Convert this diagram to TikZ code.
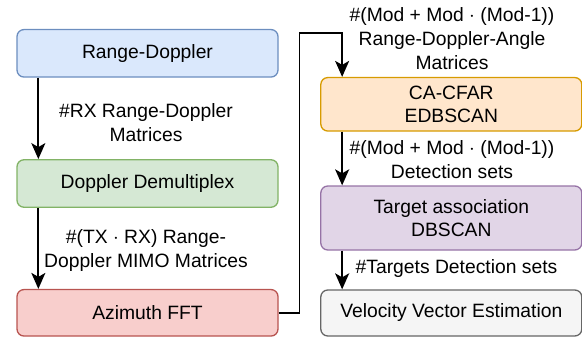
\documentclass[tikz,border=0pt]{standalone}
\usepackage{fontspec}
\setmainfont{Liberation Sans}
\usetikzlibrary{arrows.meta}
\definecolor{bluefill}{HTML}{DAE8FC}\definecolor{blueline}{HTML}{6C8EBF}
\definecolor{greenfill}{HTML}{D5E8D4}\definecolor{greenline}{HTML}{82B366}
\definecolor{redfill}{HTML}{F8CECC}\definecolor{redline}{HTML}{B85450}
\definecolor{orangefill}{HTML}{FFE6CC}\definecolor{orangeline}{HTML}{D79B00}
\definecolor{purplefill}{HTML}{E1D5E7}\definecolor{purpleline}{HTML}{9673A6}
\definecolor{grayfill}{HTML}{F5F5F5}\definecolor{grayline}{HTML}{666666}
\begin{document}
\begin{tikzpicture}[x=1pt, y=-1pt,
    box/.style={draw, rounded corners=7pt, line width=1.3pt, minimum width=261pt,
        inner sep=0pt, align=center, font=\fontsize{19.3}{23.5}\selectfont},
    note/.style={inner sep=0pt, align=center, font=\fontsize{19.3}{24}\selectfont},
    flow/.style={line width=1.8pt, -{Stealth[length=16pt,width=14pt,inset=4pt]}}]
    \useasboundingbox (0,0) rectangle (582,337);

    % left column
    \node[box, fill=bluefill, draw=blueline, minimum height=47.5pt] (rd) at (147.5,53.3) {Range-Doppler};
    \node[box, fill=greenfill, draw=greenline, minimum height=47.5pt] (dd) at (147.5,183.5) {Doppler Demultiplex};
    \node[box, fill=redfill, draw=redline, minimum height=46.5pt] (az) at (147.5,312.8) {Azimuth FFT};

    % right column
    \node[box, fill=orangefill, draw=orangeline, minimum height=53.5pt] (cfar) at (451.3,104.3) {CA-CFAR\\EDBSCAN};
    \node[box, fill=purplefill, draw=purpleline, minimum height=64pt] (assoc) at (451.3,218) {Target association\\DBSCAN};
    \node[box, fill=grayfill, draw=grayline, minimum height=46pt] (vel) at (451.3,313) {Velocity Vector Estimation};

    \coordinate (bend) at (299.5,33);

    \draw[flow] ([xshift=22pt]rd.south west) -- ([xshift=22pt]dd.north west);
    \draw[flow] ([xshift=22pt]dd.south west) -- ([xshift=22pt]az.north west);
    \draw[flow] (az.east) -| (bend) -| ([xshift=22pt]cfar.north west);
    \draw[flow] ([xshift=22pt]cfar.south west) -- ([xshift=22pt]assoc.north west);
    \draw[flow] ([xshift=22pt]assoc.south west) -- ([xshift=22pt]vel.north west);

    \node[note] (l1) at (146,123) {\#RX Range-Doppler\\Matrices};
    \node[note] (l2) at (146,251) {\#(TX $\cdot$ RX) Range-\\Doppler MIMO Matrices};
    \node[note] (l3) at (452,39) {\#(Mod + Mod $\cdot$ (Mod-1))\\Range-Doppler-Angle\\Matrices};
    \node[note] (l4) at (452,160) {\#(Mod + Mod $\cdot$ (Mod-1))\\Detection sets};
    \node[note] (l5) at (456.5,269) {\#Targets Detection sets};
\end{tikzpicture}
\end{document}
